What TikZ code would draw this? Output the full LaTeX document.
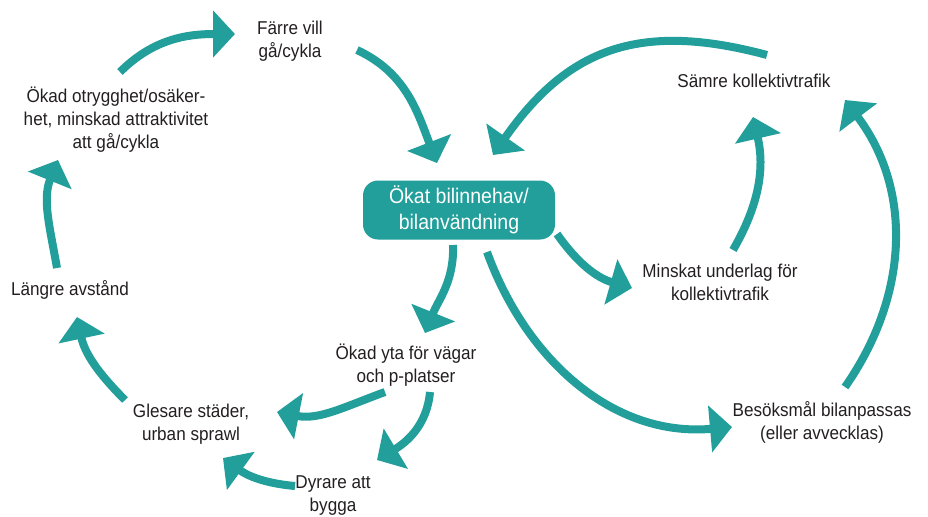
\documentclass[tikz,border=0pt]{standalone}
\usepackage{fontspec}
\setmainfont{Liberation Sans}[FakeStretch=0.92]
\usetikzlibrary{arrows.meta}
\definecolor{loopteal}{RGB}{34,158,155}
\definecolor{inkgray}{RGB}{35,31,32}

\begin{document}
\begin{tikzpicture}[x=0.5pt,y=0.5pt,
    every node/.style={font=\fontsize{9.3}{11.5}\selectfont, text=inkgray, align=center, inner sep=0pt},
    carbox/.style={rounded corners=7.5pt, fill=loopteal, text=white, minimum width=96pt, minimum height=29.5pt, font=\fontsize{10.6}{13}\selectfont},
    flow/.style={draw=loopteal, line width=4pt, -{Triangle[length=11pt,width=23pt]}}
    ]
    \useasboundingbox (0,0) rectangle (928,-516);

    \node [carbox] (car) at (459,-210) {Ökat bilinnehav/\\bilanvändning};

    \node (farre) at (290,-41) {Färre vill\\gå/cykla};
    \node (otry) at (116,-120) {Ökad otrygghet/osäker-\\het, minskad attraktivitet\\att gå/cykla};
    \node (langre) at (70,-290) {Längre avstånd};
    \node (gles) at (191,-424) {Glesare städer,\\urban sprawl};
    \node (dyr) at (333,-496) {Dyrare att\\bygga};
    \node (yta) at (406,-365) {Ökad yta för vägar\\och p-platser};

    \node (minsk) at (720,-282) {Minskat underlag för\\kollektivtrafik};
    \node (besok) at (822,-422) {Besöksmål bilanpassas\\(eller avvecklas)};
    \node (samre) at (754,-81) {Sämre kollektivtrafik};

    \draw [flow] ([shift={(4,48)}]otry.center) to [out=45, in=180] ([shift={(-55,7)}]farre.center);
    \draw [flow] ([shift={(67,-9)}]farre.center) to [out=-25, in=111] ([shift={(-22,47)}]car.center);
    \draw [flow] ([shift={(13,26)}]samre.center) to [out=165, in=55, looseness=1.15] ([shift={(34,55)}]car.center);
    \draw [flow] ([shift={(13,32)}]minsk.center) to [out=60, in=-77] ([shift={(-1,-36)}]samre.center);
    \draw [flow] ([shift={(23,35)}]besok.center) to [out=55, in=-53] ([shift={(91,-19)}]samre.center);

    \draw [flow] ([shift={(98,-24)}]car.center) to [out=-55, in=164] ([shift={(-88,-6)}]minsk.center);
    \draw [flow] ([shift={(28,-42)}]car.center) to [out=-70, in=185] ([shift={(-90,-5)}]besok.center);
    \draw [flow] ([shift={(-6,-35)}]car.center) to [out=-88, in=68] ([shift={(19,32)}]yta.center);

    \draw [flow] ([shift={(-21,-27)}]yta.center) to [out=200, in=-11] ([shift={(86,12)}]gles.center);
    \draw [flow] ([shift={(24,-27)}]yta.center) to [out=-95, in=31] ([shift={(44,36)}]dyr.center);
    \draw [flow] ([shift={(-38,10)}]dyr.center) to [out=175, in=-36] ([shift={(32,-34)}]gles.center);
    \draw [flow] ([shift={(-66,24)}]gles.center) to [out=135, in=-78] ([shift={(7,-27)}]langre.center);
    \draw [flow] ([shift={(-13,22)}]langre.center) to [out=100, in=-112] ([shift={(-58,-40)}]otry.center);
\end{tikzpicture}
\end{document}
